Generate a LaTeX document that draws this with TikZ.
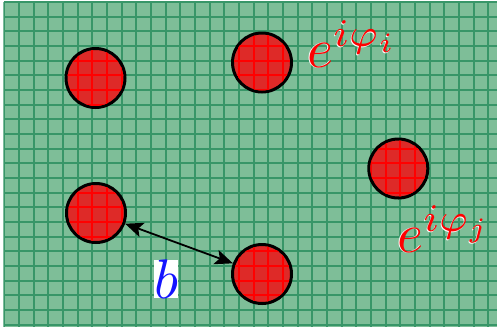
\documentclass[tikz,border=0pt]{standalone}
\usepackage{graphicx}
\usetikzlibrary{arrows.meta}
\definecolor{bggreen}{RGB}{126,190,152}
\definecolor{gridgreen}{RGB}{56,150,104}
\definecolor{dotred}{RGB}{222,42,40}
\definecolor{labelblue}{RGB}{20,20,255}
\newcommand{\bigmath}[1]{\scalebox{5.6}{$#1$}}
\newcommand{\gridxs}{4,19,34,48,63,78,92,107,122,136,151,166,180,195,210,224,239,254,268,283,298,312,327,342,356,371,386,400,415,430,444,459,474,488}
\newcommand{\gridys}{2,17,31,46,61,75,90,105,119,134,149,163,178,193,207,222,237,251,266,281,295,310,325}
\tikzset{
  dot/.style={circle, draw=black, line width=3bp, fill=dotred, minimum size=59bp, inner sep=0pt},
  gridline/.style={draw=gridgreen, line width=1.3bp},
  redgrid/.style={draw=red, line width=1.2bp},
  biglabel/.style={inner sep=0pt},
  phaselabel/.style={biglabel, text=red, anchor=base west},
  halo/.style={biglabel, text=white, anchor=base west},
  dist/.style={<->, >={Stealth[length=18bp,width=15bp,inset=4bp]}, line width=1.8bp, black}
}
\begin{document}
\begin{tikzpicture}[x=1bp,y=-1bp]
\useasboundingbox (0,0) rectangle (499,329);
% background
\fill[white] (0,0) rectangle (499,329);
\fill[bggreen] (4,2) rectangle (497,327);
\begin{scope}
\clip (3.3,1.3) rectangle (497,327);
\foreach \gx in \gridxs {\draw[gridline] (\gx,2) -- (\gx,327);}
\foreach \gy in \gridys {\draw[gridline] (4,\gy) -- (497,\gy);}
\end{scope}
% circles
\node[dot] (A) at (95.5,78) {};
\node[dot] (B) at (262,62.5) {};
\node[dot] (C) at (398.3,168.5) {};
\node[dot] (D) at (96,213) {};
\node[dot] (E) at (262,274) {};
% red grid inside circles
\foreach \c in {A,B,C,D,E}{
  \begin{scope}
  \clip (\c.center) circle (28bp);
  \foreach \gx in \gridxs {\draw[redgrid] (\gx,2) -- (\gx,327);}
  \foreach \gy in \gridys {\draw[redgrid] (4,\gy) -- (497,\gy);}
  \end{scope}
}
% distance arrow
\draw[dist] (D) -- (E);
\node[biglabel, fill=white, text=labelblue] (b) at (166,279) {\bigmath{b}};
% phase labels
\node[halo] (pih) at (306.2,67.8) {\bigmath{e^{i\varphi_i}}};
\node[phaselabel] (pi) at (307,67) {\bigmath{e^{i\varphi_i}}};
\node[halo] (pjh) at (396.2,252.8) {\bigmath{e^{i\varphi_j}}};
\node[phaselabel] (pj) at (397,252) {\bigmath{e^{i\varphi_j}}};
\end{tikzpicture}
\end{document}
